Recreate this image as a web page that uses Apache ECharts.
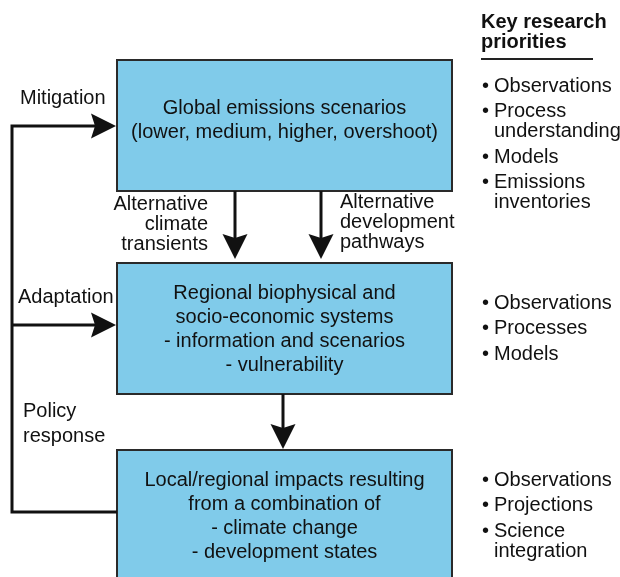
<!DOCTYPE html>
<html>
<head>
<meta charset="UTF-8">
<title></title>
<style>
  html, body { margin: 0; padding: 0; background: #fff; }
  #container { width: 620px; height: 577px; }
</style>
</head>
<body>
<div id="container"></div>
<script src="https://cdn.jsdelivr.net/npm/echarts@6/dist/echarts.min.js"></script>
<script>
// box contents, top to bottom
var boxTexts = [
  ['Global emissions scenarios', '(lower, medium, higher, overshoot)'],
  ['Regional biophysical and', 'socio-economic systems', '- information and scenarios', '- vulnerability'],
  ['Local/regional impacts resulting', 'from a combination of', '- climate change', '- development states']
];
var priorityTitle = ['Key research', 'priorities'];
var priorityLists = [
  ['Observations', 'Process\nunderstanding', 'Models', 'Emissions\ninventories'],
  ['Observations', 'Processes', 'Models'],
  ['Observations', 'Projections', 'Science\nintegration']
];
var sideLabels = ['Mitigation', 'Adaptation', 'Policy\nresponse'];
var pathLabels = ['Alternative\nclimate\ntransients', 'Alternative\ndevelopment\npathways'];

// layout, in pixels of the 620 x 577 page
var boxFrames = [[117, 60, 452, 191], [117, 263, 452, 394], [117, 450, 452, 604]];
var boxTextY = [120, 329, 516];
var arrowPaths = [
  [[117, 512], [12, 512], [12, 126], [116, 126]],
  [[12, 325], [116, 325]],
  [[235, 191], [235, 259]],
  [[321, 191], [321, 259]],
  [[283, 394], [283, 449]]
];
var sideSpots = [[20, 98], [18, 297], [23, 424]];
var pathSpots = [[208, 224, 'right'], [340, 222, 'left']];
var listTop = [86, 303, 480];

var FONT = '"Liberation Sans", Arial, Helvetica, sans-serif';
var INK = '#111';

// flat list of text marks: [x, y, text, align, vAlign, lineHeight, weight]
var texts = [];
sideLabels.forEach(function (t, i) {
  texts.push([sideSpots[i][0], sideSpots[i][1], t, 'left', 'middle', 25, 'normal']);
});
pathLabels.forEach(function (t, i) {
  texts.push([pathSpots[i][0], pathSpots[i][1], t, pathSpots[i][2], 'middle', 20, 'normal']);
});
texts.push([481, 32, priorityTitle.join('\n'), 'left', 'middle', 20, 'bold']);
priorityLists.forEach(function (list, g) {
  var y = listTop[g];
  list.forEach(function (item) {
    texts.push([482, y - 10, '\u2022', 'left', 'top', 20, 'normal']);
    texts.push([494, y - 10, item, 'left', 'top', 20, 'normal']);
    y += 20 * item.split('\n').length + 5.5;
  });
});

function renderBox(params, api) {
  var f = boxFrames[params.dataIndex];
  var p0 = api.coord([f[0], f[1]]);
  var p1 = api.coord([f[2], f[3]]);
  var c = api.coord([(f[0] + f[2]) / 2, boxTextY[params.dataIndex]]);
  return {
    type: 'group',
    children: [{
      type: 'rect',
      shape: { x: p0[0], y: p0[1], width: p1[0] - p0[0], height: p1[1] - p0[1] },
      style: { fill: '#80cbea', stroke: '#2a2a2a', lineWidth: 2 }
    }, {
      type: 'text',
      x: c[0], y: c[1],
      style: {
        text: boxTexts[params.dataIndex].join('\n'),
        fill: INK, fontFamily: FONT, fontSize: 20, lineHeight: 24,
        align: 'center', verticalAlign: 'middle'
      }
    }]
  };
}

function renderArrow(params, api) {
  var pts = arrowPaths[params.dataIndex].map(function (p) { return api.coord(p); });
  var n = pts.length, tip = pts[n - 1], prev = pts[n - 2];
  var dx = tip[0] - prev[0], dy = tip[1] - prev[1];
  var len = Math.sqrt(dx * dx + dy * dy);
  var ux = dx / len, uy = dy / len;
  var headLen = 25, half = 12.5, notch = 4;
  var base = [tip[0] - ux * headLen, tip[1] - uy * headLen];
  var shaft = pts.slice(0, n - 1).concat([[base[0] + ux * notch, base[1] + uy * notch]]);
  return {
    type: 'group',
    children: [{
      type: 'polyline',
      shape: { points: shaft },
      style: { stroke: INK, lineWidth: 3, fill: null, lineJoin: 'miter' }
    }, {
      type: 'polygon',
      shape: { points: [
        tip,
        [base[0] - uy * half, base[1] + ux * half],
        [base[0] + ux * notch, base[1] + uy * notch],
        [base[0] + uy * half, base[1] - ux * half]
      ] },
      style: { fill: INK }
    }]
  };
}

function renderText(params, api) {
  var t = texts[params.dataIndex];
  var p = api.coord([t[0], t[1]]);
  return {
    type: 'text',
    x: p[0], y: p[1],
    style: {
      text: t[2], fill: INK, fontFamily: FONT, fontSize: 20, fontWeight: t[6],
      lineHeight: t[5], align: t[3], verticalAlign: t[4]
    }
  };
}

var myChart = echarts.init(document.getElementById('container'));
myChart.setOption({
  animation: false,
  grid: { left: 0, right: 0, top: 0, bottom: 0 },
  xAxis: { type: 'value', min: 0, max: 620, show: false },
  yAxis: { type: 'value', min: 0, max: 577, inverse: true, show: false },
  series: [
    {
      type: 'custom', renderItem: renderBox, silent: true,
      data: boxFrames.map(function (f) { return [f[0], f[1]]; })
    },
    {
      type: 'custom', renderItem: renderArrow, silent: true,
      data: arrowPaths.map(function (p) { return p[p.length - 1]; })
    },
    {
      type: 'lines', coordinateSystem: 'cartesian2d', silent: true,
      lineStyle: { color: '#222', width: 2, opacity: 1 },
      data: [{ coords: [[481, 59], [593, 59]] }]
    },
    {
      type: 'custom', renderItem: renderText, silent: true,
      data: texts.map(function (t) { return [t[0], t[1]]; })
    }
  ]
});
</script>
</body>
</html>
